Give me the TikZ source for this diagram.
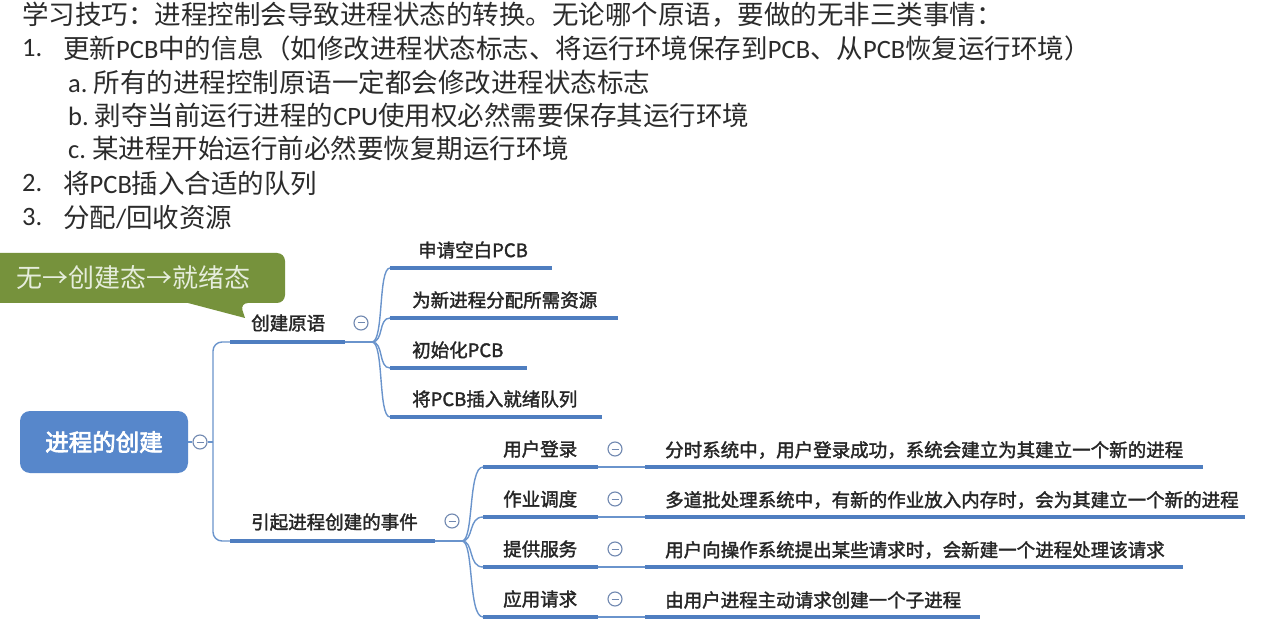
\documentclass[tikz,border=0pt]{standalone}
\usepackage{fontspec}
\setmainfont{Noto Sans CJK SC}
\newfontfamily\cjkm{Noto Sans CJK SC}[FakeBold=1.8]
\newfontfamily\cjkrootf{Noto Sans CJK SC}[FakeBold=3]
\newfontfamily\cjkr{Noto Sans CJK SC}
\newfontfamily\lat{Carlito}
\newcommand\latn[1]{{\lat #1}}
\definecolor{txt}{HTML}{262626}
\definecolor{toptxt}{HTML}{2B2B2B}
\definecolor{lineblue}{HTML}{4F7EC0}
\definecolor{thinblue}{HTML}{6A94CC}
\definecolor{rootblue}{HTML}{5787CB}
\definecolor{callgreen}{HTML}{76923C}
\definecolor{calltext}{HTML}{E6EDDC}
\definecolor{circ}{HTML}{7088B0}
\newcommand\collapsemark[3]{%
  \node[coll] (#1) at (#2,#3) {};
  \draw[circ,line width=1pt] ([xshift=-3.5pt]#1.center) -- ([xshift=3.5pt]#1.center);}
\begin{document}
\begin{tikzpicture}[x=1pt,y=-1pt,
  toptext/.style={anchor=west,inner sep=0,font=\cjkr\fontsize{26.5}{30}\selectfont,text=toptxt},
  mm/.style={anchor=west,inner sep=0,font=\cjkm\fontsize{18.5}{22}\selectfont,text=txt},
  uline/.style={line width=4.5pt,draw=lineblue},
  thinl/.style={line width=1.4pt,draw=thinblue},
  coll/.style={circle,draw=circ,line width=1.1pt,minimum size=14pt,inner sep=0,fill=white}
]
\useasboundingbox (0,0) rectangle (1264,628);
\fill[white] (0,0) rectangle (1264,628);

% top text
\node[toptext] (t0) at (22,15) {学习技巧：进程控制会导致进程状态的转换。无论哪个原语，要做的无非三类事情：};
\node[toptext] (n1) at (22,48) {\latn{1.}};
\node[toptext] (t1) at (63,48) {更新\latn{PCB}中的信息（如修改进程状态标志、将运行环境保存到\latn{PCB}、从\latn{PCB}恢复运行环境）};
\node[toptext] (ta) at (68,82) {\latn{a.}\hspace{6pt}所有的进程控制原语一定都会修改进程状态标志};
\node[toptext] (tb) at (68,115) {\latn{b.}\hspace{6pt}剥夺当前运行进程的\latn{CPU}使用权必然需要保存其运行环境};
\node[toptext] (tc) at (68,148) {\latn{c.}\hspace{6pt}某进程开始运行前必然要恢复期运行环境};
\node[toptext] (n2) at (22,183) {\latn{2.}};
\node[toptext] (t2) at (63,183) {将\latn{PCB}插入合适的队列};
\node[toptext] (n3) at (22,217) {\latn{3.}};
\node[toptext] (t3) at (63,217) {分配\latn{/}回收资源};

% callout
\fill[callgreen,rounded corners=8pt] (-12,253) -- (285,253) -- (285,303) -- (240,303)
  [sharp corners] -- (245,318) -- (188,303) [rounded corners=8pt] -- (-12,303) -- cycle;
\node[anchor=west,inner sep=0,font=\cjkr\fontsize{26}{30}\selectfont,text=calltext] (callout) at (16,278) {无→创建态→就绪态};

% root
\node[fill=rootblue,rounded corners=10pt,minimum width=168pt,minimum height=62pt,inner sep=0,
  text=white,font=\cjkrootf\fontsize{23.5}{28}\selectfont] (root) at (104,442) {进程的创建};
\collapsemark{c0}{200}{442}
\coordinate (jr) at (213,442);
\draw[thinl] (root.east) -- (c0.west);
\draw[thinl] (c0.east) -- (jr);

% branch 1
\coordinate (b1s) at (230,342);
\coordinate (b1e) at (345,342);
\coordinate (j1) at (372,342);
\draw[thinl,rounded corners=9pt] (jr) |- (b1s);
\draw[uline] (b1s) -- (b1e);
\draw[thinl] (b1e) -- (j1);
\node[mm] (b1) at (251,323) {创建原语};
\collapsemark{c1}{361}{323}

\foreach \n/\y/\xe/\xt/\t in {k1/268/552/418/申请空白PCB,k2/318/618/412/为新进程分配所需资源,k3/368/527/412/初始化PCB,k4/417/602/412/将PCB插入就绪队列}{
  \coordinate (\n s) at (390,\y);
  \coordinate (\n e) at (\xe,\y);
  \draw[thinl] (j1) .. controls (384,342) and (378,\y) .. (\n s);
  \draw[uline] (\n s) -- (\n e);
  \node[mm] (\n) at (\xt,\y-18) {\t};
}

% branch 2
\coordinate (b2s) at (230,541);
\coordinate (b2e) at (435,541);
\coordinate (j2) at (462,541);
\draw[thinl,rounded corners=9pt] (jr) |- (b2s);
\draw[uline] (b2s) -- (b2e);
\draw[thinl] (b2e) -- (j2);
\node[mm] (b2) at (251,522) {引起进程创建的事件};
\collapsemark{c2}{452}{521}

\foreach \n/\y/\t/\xl/\lt in {
  e1/467/用户登录/1203/分时系统中，用户登录成功，系统会建立为其建立一个新的进程,
  e2/517/作业调度/1245/多道批处理系统中，有新的作业放入内存时，会为其建立一个新的进程,
  e3/567/提供服务/1183/用户向操作系统提出某些请求时，会新建一个进程处理该请求,
  e4/617/应用请求/980/由用户进程主动请求创建一个子进程}{
  \coordinate (\n s) at (483,\y);
  \coordinate (\n e) at (598,\y);
  \coordinate (\n ls) at (645,\y);
  \coordinate (\n le) at (\xl,\y);
  \draw[thinl] (j2) .. controls (474,541) and (468,\y) .. (\n s);
  \draw[uline] (\n s) -- (\n e);
  \draw[thinl] (\n e) -- (\n ls);
  \draw[uline] (\n ls) -- (\n le);
  \node[mm] (\n) at (503,\y-18) {\t};
  \collapsemark{\n c}{615}{\y-18}
  \node[mm] (\n l) at (665,\y-17) {\lt};
}
\end{tikzpicture}
\end{document}
